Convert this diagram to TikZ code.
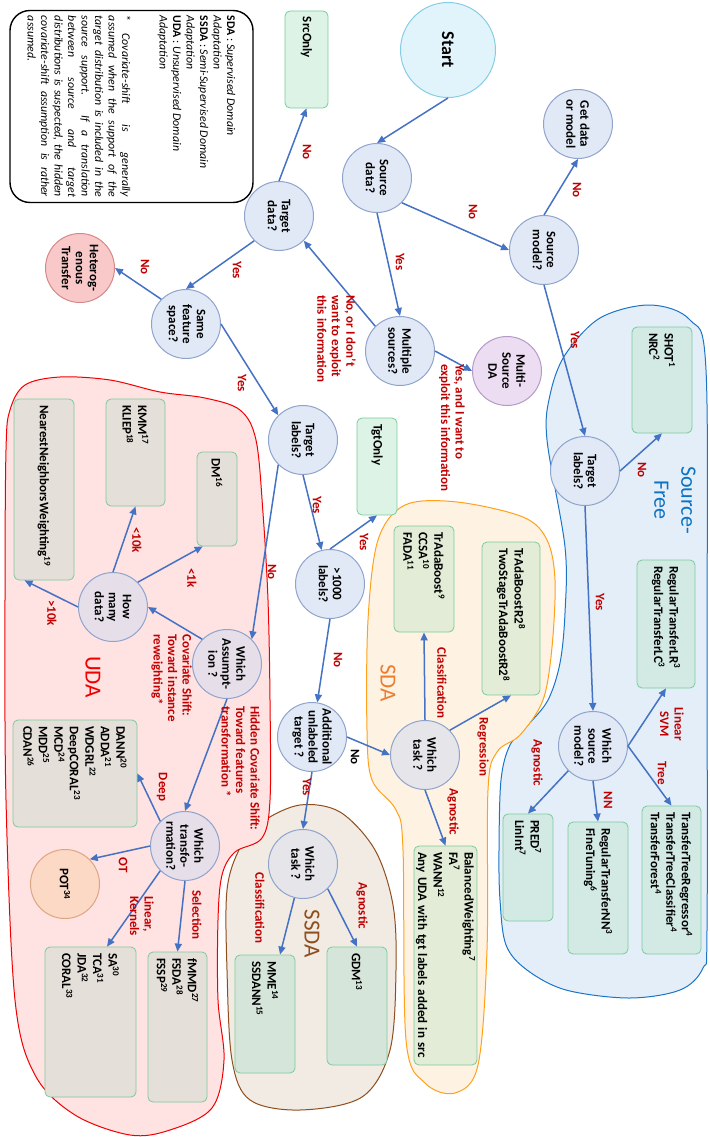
\documentclass[tikz,border=0pt]{standalone}
\usepackage{fontspec}
\setmainfont{Carlito}
\usetikzlibrary{arrows.meta,calc}
\hyphenpenalty=10000

\definecolor{flowblue}{HTML}{4472C4}
\definecolor{ansred}{HTML}{C00000}
\definecolor{qfill}{HTML}{E2E9F6}
\definecolor{qline}{HTML}{8FA3CC}
\definecolor{startfill}{HTML}{E1F4FB}
\definecolor{startline}{HTML}{86CDE3}
\definecolor{greyfill}{HTML}{E6E6EA}
\definecolor{lilacfill}{HTML}{E6DFEA}
\definecolor{heterofill}{HTML}{F9C9C9}
\definecolor{heteroline}{HTML}{D58888}
\definecolor{msfill}{HTML}{ECDDF2}
\definecolor{msline}{HTML}{B49AC8}
\definecolor{potfill}{HTML}{FBD9C4}
\definecolor{potline}{HTML}{DDA584}
\definecolor{boxline}{HTML}{79CC9C}
\definecolor{onlyfill}{HTML}{DDF3E6}
\definecolor{sffill}{HTML}{D2E9E4}
\definecolor{sdafill}{HTML}{E2ECD6}
\definecolor{ssdafill}{HTML}{D6E5DA}
\definecolor{udafill}{HTML}{E4DFD9}
\definecolor{sfregion}{HTML}{E4EEF8}
\definecolor{sfborder}{HTML}{1A75C9}
\definecolor{sdaregion}{HTML}{FEF3E3}
\definecolor{sdaborder}{HTML}{FFA11A}
\definecolor{ssdaregion}{HTML}{F2EBE4}
\definecolor{ssdaborder}{HTML}{8E4E1E}
\definecolor{udaregion}{HTML}{FFE2E2}
\definecolor{udaborder}{HTML}{F00000}
\definecolor{sdatext}{HTML}{ED7D31}
\definecolor{sftext}{HTML}{0B72C4}

\tikzset{
  question/.style={circle, draw=qline, fill=qfill, line width=1pt, minimum size=69pt,
    inner sep=0pt, align=center, font=\bfseries\fontsize{13}{14}\selectfont},
  method/.style={rectangle, rounded corners=5pt, draw=boxline, line width=0.8pt,
    inner xsep=6pt, inner ysep=2pt, align=left, text width=#1,
    font=\bfseries\fontsize{13}{15.5}\selectfont},
  flow/.style={draw=flowblue, line width=1.5pt, -{Triangle[length=8pt,width=7pt]}},
  answer/.style={text=ansred, inner sep=1pt, font=\bfseries\fontsize{13}{14.5}\selectfont},
  area/.style={line width=1pt},
  areaname/.style={align=center, font=\fontsize{23}{27}\selectfont},
  notes/.style={draw, line width=1.4pt, rounded corners=20pt, minimum width=192pt,
    minimum height=243pt, text width=181pt, inner xsep=5.5pt, align=justify,
    font=\fontsize{11.8}{13.5}\selectfont},
}

\begin{document}
\begin{tikzpicture}[x=1pt, y=1pt, rotate=-90, transform shape]
    \useasboundingbox (0,0) rectangle (1137,709);

    % domains
    \draw[area, draw=sfborder, fill=sfregion] plot[smooth cycle, tension=0.55] coordinates {
        (440,547) (547,565) (613,565) (663,560) (700,548) (725,528) (745,510) (780,501)
        (850,499) (900,500) (945,506) (970,527) (990,566) (998,629) (990,680) (968,703)
        (930,707) (650,707) (370,706) (320,690) (305,650) (318,600) (355,565) (395,550)};
    \draw[area, draw=sdaborder, fill=sdaregion] plot[smooth cycle, tension=0.55] coordinates {
        (730,367) (620,368) (540,378) (505,405) (502,457) (517,523) (540,547) (580,555)
        (647,552) (700,543) (735,520) (752,497) (790,488) (950,487) (1065,478) (1093,455)
        (1083,425) (1040,406) (850,403) (810,396) (780,372)};
    \draw[area, draw=ssdaborder, fill=ssdaregion] plot[smooth cycle, tension=0.55] coordinates {
        (890,227) (848,240) (822,262) (805,300) (812,340) (850,375) (905,393) (970,396)
        (1050,390) (1097,362) (1110,300) (1100,250) (1060,232) (970,227)};
    \draw[area, draw=udaborder, fill=udaregion] plot[smooth cycle, tension=0.55] coordinates {
        (410,10) (385,25) (377,60) (380,110) (392,160) (398,205) (410,240) (440,256)
        (513,263) (600,268) (700,270) (800,270) (838,262) (852,235) (875,222) (920,218)
        (1000,218) (1060,224) (1108,212) (1130,170) (1135,130) (1115,75) (1075,35)
        (1000,15) (800,6) (600,5) (450,6)};

    \node[areaname, text=sftext, font=\fontsize{22}{27}\selectfont] (sfname) at (500,675) {Source-\\Free};
    \node[areaname, text=sdatext] (sdaname) at (683,388) {SDA};
    \node[areaname, text=ssdaborder] (ssdaname) at (934,312) {SSDA};
    \node[areaname, text=udaborder] (udaname) at (677,93) {UDA};

    % notes
    \node[notes] (notes) at (106.5,131.5) {%
        \textbf{SDA} : \textit{Supervised Domain}\newline
        \textit{Adaptation}\newline
        \textbf{SSDA} : \textit{Semi-Supervised Domain}\newline
        \textit{Adaptation}\newline
        \textbf{UDA} : \textit{Unsupervised Domain}\newline
        \textit{Adaptation}\\[24pt]
        *\quad\textit{Covariate-shift is generally\linebreak
        assumed when the support of the\linebreak
        target distribution is included in the\linebreak
        source support. If a translation\linebreak
        between source and target\linebreak
        distributions is suspected, the hidden\linebreak
        covariate-shift assumption is rather\linebreak
        assumed.}};

    % questions
    \node[question, minimum size=95pt, fill=startfill, draw=startline,
          font=\bfseries\fontsize{18}{20}\selectfont] (start) at (50,448) {Start};
    \node[question] (srcdata) at (178,377) {Source\\data?};
    \node[question] (tgtdata) at (216,279) {Target\\data?};
    \node[question] (getdata) at (124,578) {Get data\\or model};
    \node[question] (srcmodel) at (250,544) {Source\\model?};
    \node[question, fill=heterofill, draw=heteroline] (hetero) at (268,80) {Heterog-\\enous\\Transfer};
    \node[question] (samefeat) at (324,186) {Same\\feature\\space?};
    \node[question] (multisrc) at (351,400) {Multiple\\sources?};
    \node[question, fill=msfill, draw=msline] (msda) at (371,507) {Multi-\\Source\\DA};
    \node[question] (sflabels) at (471,585) {Target\\labels?};
    \node[question] (tgtlabels) at (440,303) {Target\\labels?};
    \node[question] (manylabels) at (584,330) {>1000\\labels?};
    \node[question] (addunl) at (737,312) {Additional\\unlabeled\\target ?};
    \node[question, fill=greyfill] (sdatask) at (755,425) {Which\\task ?};
    \node[question, fill=greyfill] (ssdatask) at (864,303) {Which\\task ?};
    \node[question] (whichsrc) at (746,593) {Which\\source\\model?};
    \node[question, fill=lilacfill] (howmany) at (607,113) {How\\many\\data?};
    \node[question, fill=lilacfill] (assumption) at (664,227) {Which\\Assumpt-\\ion ?};
    \node[question, fill=lilacfill] (transfo) at (846,185) {Which\\transfo-\\rmation?};
    \node[question, fill=potfill, draw=potline] (pot) at (884,65) {POT\textsuperscript{34}};

    % methods
    \node[method=85pt, minimum height=43pt, fill=onlyfill] (srconly) at (59.5,306.5) {SrcOnly};
    \node[method=85pt, minimum height=40pt, fill=onlyfill] (tgtonly) at (466.5,377) {TgtOnly};
    \node[method=94pt, minimum height=60pt, fill=sffill] (shot) at (380,662)
        {SHOT\textsuperscript{1}\\NRC\textsuperscript{2}};
    \node[method=116pt, minimum height=58pt, fill=sffill] (reglr) at (624,666)
        {RegularTransferLR\textsuperscript{3}\\RegularTransferLC\textsuperscript{3}};
    \node[method=136pt, minimum height=59pt, fill=sffill] (tree) at (880,671.5)
        {TransferTreeRegressor\textsuperscript{4}\\TransferTreeClassifier\textsuperscript{4}\\TransferForest\textsuperscript{4}};
    \node[method=120pt, minimum height=60pt, fill=sffill] (regnn) at (888,598)
        {RegularTransferNN\textsuperscript{3}\\FineTuning\textsuperscript{6}};
    \node[method=95pt, minimum height=50pt, fill=sffill] (pred) at (867.5,528)
        {PRED\textsuperscript{7}\\LinInt\textsuperscript{7}};
    \node[method=94pt, minimum height=60pt, fill=sdafill] (tradaboost) at (579,424)
        {TrAdaBoost\textsuperscript{9}\\CCSA\textsuperscript{10}\\FADA\textsuperscript{11}};
    \node[method=141pt, minimum height=58pt, fill=sdafill] (tradar2) at (618.5,511)
        {TrAdaBoostR2\textsuperscript{8}\\TwoStageTrAdaBoostR2\textsuperscript{8}};
    \node[method=207pt, minimum height=59pt, fill=sdafill] (balanced) at (955.5,445.5)
        {BalancedWeighting\textsuperscript{7}\\FA\textsuperscript{7}\\WANN\textsuperscript{12}\\Any UDA with tgt labels added in src};
    \node[method=106pt, minimum height=60pt, fill=ssdafill] (gdm) at (1006,357) {GDM\textsuperscript{13}};
    \node[method=106pt, minimum height=60pt, fill=ssdafill] (mme) at (1014,265)
        {MME\textsuperscript{14}\\SSDANN\textsuperscript{15}};
    \node[method=82pt, minimum height=40pt, fill=udafill] (dm) at (499,217) {DM\textsuperscript{16}};
    \node[method=95pt, minimum height=59pt, fill=udafill] (kmm) at (452.5,135.5)
        {KMM\textsuperscript{17}\\KLIEP\textsuperscript{18}};
    \node[method=169pt, minimum height=60pt, fill=udafill] (nnw) at (489.5,44)
        {NearestNeighborsWeighting\textsuperscript{19}};
    \node[method=95pt, minimum height=124pt, fill=udafill] (dann) at (773.5,75)
        {DANN\textsuperscript{20}\\ADDA\textsuperscript{21}\\WDGRL\textsuperscript{22}\\DeepCORAL\textsuperscript{23}\\MCD\textsuperscript{24}\\MDD\textsuperscript{25}\\CDAN\textsuperscript{26}};
    \node[method=138pt, minimum height=91pt, fill=udafill] (sa) at (1022,90.5)
        {SA\textsuperscript{30}\\TCA\textsuperscript{31}\\JDA\textsuperscript{32}\\CORAL\textsuperscript{33}};
    \node[method=138pt, minimum height=59pt, fill=udafill] (fmmd) at (1027,177.5)
        {fMMD\textsuperscript{27}\\FSDA\textsuperscript{28}\\FSSP\textsuperscript{29}};

    % flow
    \draw[flow] (start.east) -- (srcdata.west);
    \draw[flow] (srcdata.north east) -- (srcmodel.south);
    \draw[flow] (srcdata.east) -- (multisrc.west);
    \draw[flow] (srcmodel.west) -- (getdata.east);
    \draw[flow] (srcmodel.east) -- (sflabels.west);
    \draw[flow] (multisrc.south west) -- (tgtdata.north east);
    \draw[flow] (multisrc.north) -- (msda.south);
    \draw[flow] (tgtdata.west) -- (srconly.east);
    \draw[flow] (tgtdata.south east) -- (samefeat.west);
    \draw[flow] (samefeat.south west) -- (hetero.north);
    \draw[flow] (samefeat.north) -- (tgtlabels.south west);

    % source-free
    \draw[flow] (sflabels.north) -- (shot.east);
    \draw[flow] (sflabels.east) -- (whichsrc.west);
    \draw[flow] (whichsrc.north) -- (reglr.east);
    \draw[flow] (whichsrc.north) -- (tree.west);
    \draw[flow] (whichsrc.east) -- (regnn.west);
    \draw[flow] (whichsrc.south east) -- (pred.west);

    % supervised / semi-supervised
    \draw[flow] (tgtlabels.east) -- (manylabels);
    \draw[flow] (manylabels.west) -- (tgtonly.east);
    \draw[flow] (manylabels.east) -- (addunl);
    \draw[flow] (addunl.north) -- (sdatask.south);
    \draw[flow] (addunl.east) -- (ssdatask.west);
    \draw[flow] (sdatask.west) -- (tradaboost.east);
    \draw[flow] (sdatask.north west) -- (tradar2.east);
    \draw[flow] (sdatask.east) -- (balanced.west);
    \draw[flow] (ssdatask) -- (mme);
    \draw[flow] (ssdatask.north east) -- (gdm.west);

    % unsupervised
    \draw[flow] (tgtlabels.south east) -- (assumption.north west);
    \draw[flow] (assumption.south west) -- (howmany.north);
    \draw[flow] (assumption.east) -- (transfo.west);
    \draw[flow] (howmany.north west) -- ($(dm.south east)!0.15!(dm.north east)$);
    \draw[flow] (howmany.west) -- (kmm.east);
    \draw[flow] (howmany.south) -- ($(nnw.south east)!0.18!(nnw.north east)$);
    \draw[flow] (transfo.south west) -- (dann.north);
    \draw[flow] (transfo.south) -- (pot.north west);
    \draw[flow] (transfo.south east) -- ($(sa.north west)!0.32!(sa.south west)$);
    \draw[flow] (transfo.east) -- (fmmd.west);

    % answers
    \node[answer] (nosrcdata) at (212,473) {No};
    \node[answer] (nosrcmodel) at (190,577) {No};
    \node[answer] (yessrcdata) at (262,400) {Yes};
    \node[answer] (notgtdata) at (152,307) {No};
    \node[answer, align=left, anchor=north west] (noexploit) at (294,357)
        {No, or I don’t\\want to exploit\\this information};
    \node[answer, align=left, anchor=north west] (yesexploit) at (363,466)
        {Yes, and I want to\\exploit this information};
    \node[answer] (yestgtdata) at (270,237) {Yes};
    \node[answer] (nofeat) at (267,145) {No};
    \node[answer] (yesfeat) at (383,242) {Yes};
    \node[answer] (yessrcmodel) at (340,575) {Yes};
    \node[answer] (nosflabels) at (470,642) {No};
    \node[answer] (yessflabels) at (602,600) {Yes};
    \node[answer, align=center] (linsvm) at (724,672) {Linear\\SVM};
    \node[answer] (treeans) at (773,662) {Tree};
    \node[answer] (nnans) at (800,608) {NN};
    \node[answer] (agnsf) at (763,537) {Agnostic};
    \node[answer] (yestgtlabels) at (505,317) {Yes};
    \node[answer] (yesmany) at (542,364) {Yes};
    \node[answer] (nomany) at (660,338) {No};
    \node[answer] (notgtlabels) at (572,272) {No};
    \node[answer] (classsda) at (683,442) {Classification};
    \node[answer] (regrsda) at (747,483) {Regression};
    \node[answer] (agnsda) at (812,453) {Agnostic};
    \node[answer, text=black] (noaddunl) at (757,355) {No};
    \node[answer] (yesaddunl) at (787,307) {Yes};
    \node[answer] (classssda) at (908,260) {Classification};
    \node[answer] (agnssda) at (906,362) {Agnostic};
    \node[answer] (lessk) at (578,192) {<1k};
    \node[answer] (lesstenk) at (540,137) {<10k};
    \node[answer] (moretenk) at (613,52) {>10k};
    \node[answer, align=left, anchor=north west] (covshift) at (633,193)
        {Covariate Shift:\\Toward instance\\reweighting*};
    \node[answer, align=left, anchor=north west] (hiddenshift) at (705,261)
        {Hidden Covariate Shift:\\Toward features\\transformation *};
    \node[answer] (deepans) at (787,162) {Deep};
    \node[answer] (otans) at (865,123) {OT};
    \node[answer, align=left, anchor=north west] (linkern) at (895,155) {Linear,\\Kernels};
    \node[answer] (selans) at (915,197) {Selection};
\end{tikzpicture}
\end{document}
